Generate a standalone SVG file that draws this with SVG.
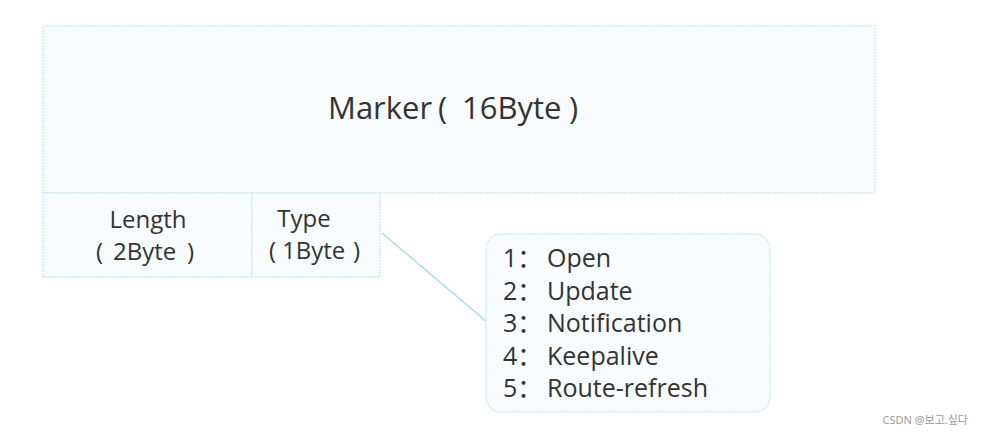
<svg xmlns="http://www.w3.org/2000/svg" width="982" height="435" viewBox="0 0 982 435">
<style>
.box{fill:#f8fcfe;stroke:#cfeaf7;stroke-width:1.5;stroke-dasharray:2 1}
.t{font-family:"Open Sans","Noto Sans CJK SC",sans-serif;fill:#333333}
.c{stroke:#a6def0;stroke-width:1.5;fill:none}
</style>
<rect width="982" height="435" fill="#ffffff"/>
<g id="marker">
<rect class="box" x="43" y="26" width="832" height="167"/>
<text class="t" x="328" y="119" font-size="31">Marker<tspan x="438">(</tspan><tspan x="462">16Byte</tspan><tspan x="569">)</tspan></text>
</g>
<g id="length">
<rect class="box" x="43" y="193" width="209" height="84"/>
<text class="t" x="148" y="228" font-size="24" text-anchor="middle">Length</text>
<text class="t" x="96" y="260" font-size="24">(<tspan x="113">2Byte</tspan><tspan x="187">)</tspan></text>
</g>
<g id="type">
<rect class="box" x="252" y="193" width="128" height="84"/>
<text class="t" x="304" y="227" font-size="24" text-anchor="middle">Type</text>
<text class="t" x="269" y="259" font-size="24">(<tspan x="282">1Byte</tspan><tspan x="353">)</tspan></text>
</g>
<g id="connectors">
<line class="c" x1="382" y1="233" x2="487" y2="322"/>
</g>
<g id="types">
<rect class="box" x="486" y="234" width="284" height="178" rx="15"/>
<g class="t" font-size="25">
<text x="503" y="267">1：</text><text x="547" y="267">Open</text>
<text x="503" y="300">2：</text><text x="547" y="300">Update</text>
<text x="503" y="332">3：</text><text x="547" y="332">Notification</text>
<text x="503" y="365">4：</text><text x="547" y="365">Keepalive</text>
<text x="503" y="397">5：</text><text x="547" y="397">Route-refresh</text>
</g>
</g>
<text x="968" y="424" font-size="11" text-anchor="end" font-family="'Noto Sans','Noto Sans CJK KR',sans-serif" fill="#9a9a9a">CSDN @보고.싶다</text>
</svg>
